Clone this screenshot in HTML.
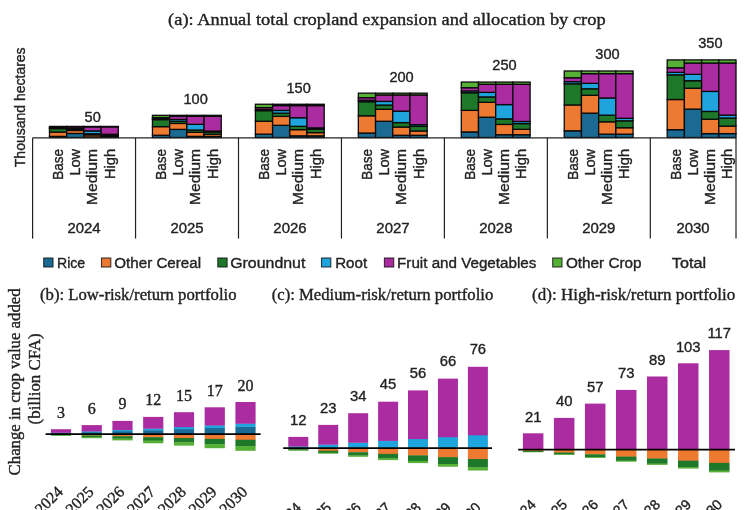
<!DOCTYPE html>
<html><head><meta charset="utf-8"><title>Cropland expansion charts</title>
<style>
html,body{margin:0;padding:0;background:#fff}
svg{display:block}
.sa{font-family:"Liberation Sans", sans-serif;stroke:#222;stroke-width:0.36px}
.se{font-family:"Liberation Serif", serif;stroke:#222;stroke-width:0.38px}
</style></head><body>
<svg width="747" height="510" viewBox="0 0 747 510">
<rect width="747" height="510" fill="#fff"/>
<g stroke="#0a0a0a" stroke-width="1.3">
<rect x="49.50" y="136.39" width="17.20" height="1.11" fill="#1A6A94"/>
<rect x="49.50" y="132.07" width="17.20" height="4.31" fill="#EE7A32"/>
<rect x="49.50" y="128.55" width="17.20" height="3.53" fill="#1D7829"/>
<rect x="49.50" y="128.19" width="17.20" height="0.35" fill="#1FA4DE"/>
<rect x="49.50" y="127.54" width="17.20" height="0.65" fill="#AB2CA0"/>
<rect x="49.50" y="126.42" width="17.20" height="1.13" fill="#55B035"/>
<rect x="66.70" y="133.44" width="17.20" height="4.06" fill="#1A6A94"/>
<rect x="66.70" y="130.46" width="17.20" height="2.98" fill="#EE7A32"/>
<rect x="66.70" y="129.39" width="17.20" height="1.08" fill="#1D7829"/>
<rect x="66.70" y="128.48" width="17.20" height="0.91" fill="#1FA4DE"/>
<rect x="66.70" y="126.86" width="17.20" height="1.62" fill="#AB2CA0"/>
<rect x="66.70" y="126.42" width="17.20" height="0.44" fill="#55B035"/>
<rect x="83.90" y="136.95" width="17.20" height="0.55" fill="#1A6A94"/>
<rect x="83.90" y="134.88" width="17.20" height="2.06" fill="#EE7A32"/>
<rect x="83.90" y="133.78" width="17.20" height="1.11" fill="#1D7829"/>
<rect x="83.90" y="130.92" width="17.20" height="2.86" fill="#1FA4DE"/>
<rect x="83.90" y="126.86" width="17.20" height="4.06" fill="#AB2CA0"/>
<rect x="83.90" y="126.42" width="17.20" height="0.44" fill="#55B035"/>
<rect x="101.10" y="136.95" width="17.20" height="0.55" fill="#1A6A94"/>
<rect x="101.10" y="135.87" width="17.20" height="1.08" fill="#EE7A32"/>
<rect x="101.10" y="134.72" width="17.20" height="1.15" fill="#1D7829"/>
<rect x="101.10" y="134.30" width="17.20" height="0.42" fill="#1FA4DE"/>
<rect x="101.10" y="126.86" width="17.20" height="7.44" fill="#AB2CA0"/>
<rect x="101.10" y="126.42" width="17.20" height="0.44" fill="#55B035"/>
<rect x="152.45" y="135.27" width="17.20" height="2.23" fill="#1A6A94"/>
<rect x="152.45" y="126.65" width="17.20" height="8.62" fill="#EE7A32"/>
<rect x="152.45" y="119.60" width="17.20" height="7.05" fill="#1D7829"/>
<rect x="152.45" y="118.89" width="17.20" height="0.71" fill="#1FA4DE"/>
<rect x="152.45" y="117.58" width="17.20" height="1.31" fill="#AB2CA0"/>
<rect x="152.45" y="115.33" width="17.20" height="2.25" fill="#55B035"/>
<rect x="169.65" y="129.39" width="17.20" height="8.11" fill="#1A6A94"/>
<rect x="169.65" y="123.42" width="17.20" height="5.96" fill="#EE7A32"/>
<rect x="169.65" y="121.27" width="17.20" height="2.15" fill="#1D7829"/>
<rect x="169.65" y="119.45" width="17.20" height="1.82" fill="#1FA4DE"/>
<rect x="169.65" y="116.22" width="17.20" height="3.24" fill="#AB2CA0"/>
<rect x="169.65" y="115.33" width="17.20" height="0.89" fill="#55B035"/>
<rect x="186.85" y="136.39" width="17.20" height="1.11" fill="#1A6A94"/>
<rect x="186.85" y="132.27" width="17.20" height="4.12" fill="#EE7A32"/>
<rect x="186.85" y="130.05" width="17.20" height="2.22" fill="#1D7829"/>
<rect x="186.85" y="124.33" width="17.20" height="5.72" fill="#1FA4DE"/>
<rect x="186.85" y="116.22" width="17.20" height="8.11" fill="#AB2CA0"/>
<rect x="186.85" y="115.33" width="17.20" height="0.89" fill="#55B035"/>
<rect x="204.05" y="136.39" width="17.20" height="1.11" fill="#1A6A94"/>
<rect x="204.05" y="134.24" width="17.20" height="2.15" fill="#EE7A32"/>
<rect x="204.05" y="131.94" width="17.20" height="2.31" fill="#1D7829"/>
<rect x="204.05" y="131.09" width="17.20" height="0.84" fill="#1FA4DE"/>
<rect x="204.05" y="116.22" width="17.20" height="14.88" fill="#AB2CA0"/>
<rect x="204.05" y="115.33" width="17.20" height="0.89" fill="#55B035"/>
<rect x="255.40" y="134.16" width="17.20" height="3.34" fill="#1A6A94"/>
<rect x="255.40" y="121.22" width="17.20" height="12.94" fill="#EE7A32"/>
<rect x="255.40" y="110.65" width="17.20" height="10.58" fill="#1D7829"/>
<rect x="255.40" y="109.58" width="17.20" height="1.06" fill="#1FA4DE"/>
<rect x="255.40" y="107.62" width="17.20" height="1.96" fill="#AB2CA0"/>
<rect x="255.40" y="104.24" width="17.20" height="3.38" fill="#55B035"/>
<rect x="272.60" y="125.33" width="17.20" height="12.17" fill="#1A6A94"/>
<rect x="272.60" y="116.38" width="17.20" height="8.95" fill="#EE7A32"/>
<rect x="272.60" y="113.16" width="17.20" height="3.23" fill="#1D7829"/>
<rect x="272.60" y="110.43" width="17.20" height="2.73" fill="#1FA4DE"/>
<rect x="272.60" y="105.58" width="17.20" height="4.86" fill="#AB2CA0"/>
<rect x="272.60" y="104.24" width="17.20" height="1.33" fill="#55B035"/>
<rect x="289.80" y="135.84" width="17.20" height="1.66" fill="#1A6A94"/>
<rect x="289.80" y="129.65" width="17.20" height="6.19" fill="#EE7A32"/>
<rect x="289.80" y="126.33" width="17.20" height="3.33" fill="#1D7829"/>
<rect x="289.80" y="117.75" width="17.20" height="8.58" fill="#1FA4DE"/>
<rect x="289.80" y="105.58" width="17.20" height="12.17" fill="#AB2CA0"/>
<rect x="289.80" y="104.25" width="17.20" height="1.33" fill="#55B035"/>
<rect x="307.00" y="135.84" width="17.20" height="1.66" fill="#1A6A94"/>
<rect x="307.00" y="132.61" width="17.20" height="3.23" fill="#EE7A32"/>
<rect x="307.00" y="129.15" width="17.20" height="3.46" fill="#1D7829"/>
<rect x="307.00" y="127.89" width="17.20" height="1.26" fill="#1FA4DE"/>
<rect x="307.00" y="105.58" width="17.20" height="22.31" fill="#AB2CA0"/>
<rect x="307.00" y="104.25" width="17.20" height="1.33" fill="#55B035"/>
<rect x="358.35" y="133.04" width="17.20" height="4.46" fill="#1A6A94"/>
<rect x="358.35" y="115.80" width="17.20" height="17.25" fill="#EE7A32"/>
<rect x="358.35" y="101.70" width="17.20" height="14.10" fill="#1D7829"/>
<rect x="358.35" y="100.28" width="17.20" height="1.42" fill="#1FA4DE"/>
<rect x="358.35" y="97.66" width="17.20" height="2.62" fill="#AB2CA0"/>
<rect x="358.35" y="93.16" width="17.20" height="4.50" fill="#55B035"/>
<rect x="375.55" y="121.27" width="17.20" height="16.23" fill="#1A6A94"/>
<rect x="375.55" y="109.34" width="17.20" height="11.93" fill="#EE7A32"/>
<rect x="375.55" y="105.04" width="17.20" height="4.30" fill="#1D7829"/>
<rect x="375.55" y="101.41" width="17.20" height="3.64" fill="#1FA4DE"/>
<rect x="375.55" y="94.93" width="17.20" height="6.47" fill="#AB2CA0"/>
<rect x="375.55" y="93.16" width="17.20" height="1.77" fill="#55B035"/>
<rect x="392.75" y="135.28" width="17.20" height="2.22" fill="#1A6A94"/>
<rect x="392.75" y="127.04" width="17.20" height="8.25" fill="#EE7A32"/>
<rect x="392.75" y="122.60" width="17.20" height="4.43" fill="#1D7829"/>
<rect x="392.75" y="111.16" width="17.20" height="11.44" fill="#1FA4DE"/>
<rect x="392.75" y="94.93" width="17.20" height="16.23" fill="#AB2CA0"/>
<rect x="392.75" y="93.16" width="17.20" height="1.77" fill="#55B035"/>
<rect x="409.95" y="135.28" width="17.20" height="2.22" fill="#1A6A94"/>
<rect x="409.95" y="130.98" width="17.20" height="4.30" fill="#EE7A32"/>
<rect x="409.95" y="126.37" width="17.20" height="4.61" fill="#1D7829"/>
<rect x="409.95" y="124.69" width="17.20" height="1.68" fill="#1FA4DE"/>
<rect x="409.95" y="94.93" width="17.20" height="29.75" fill="#AB2CA0"/>
<rect x="409.95" y="93.16" width="17.20" height="1.77" fill="#55B035"/>
<rect x="461.30" y="131.93" width="17.20" height="5.57" fill="#1A6A94"/>
<rect x="461.30" y="110.37" width="17.20" height="21.56" fill="#EE7A32"/>
<rect x="461.30" y="92.74" width="17.20" height="17.63" fill="#1D7829"/>
<rect x="461.30" y="90.97" width="17.20" height="1.77" fill="#1FA4DE"/>
<rect x="461.30" y="87.70" width="17.20" height="3.27" fill="#AB2CA0"/>
<rect x="461.30" y="82.07" width="17.20" height="5.63" fill="#55B035"/>
<rect x="478.50" y="117.21" width="17.20" height="20.29" fill="#1A6A94"/>
<rect x="478.50" y="102.31" width="17.20" height="14.91" fill="#EE7A32"/>
<rect x="478.50" y="96.93" width="17.20" height="5.38" fill="#1D7829"/>
<rect x="478.50" y="92.38" width="17.20" height="4.54" fill="#1FA4DE"/>
<rect x="478.50" y="84.29" width="17.20" height="8.09" fill="#AB2CA0"/>
<rect x="478.50" y="82.08" width="17.20" height="2.22" fill="#55B035"/>
<rect x="495.70" y="134.73" width="17.20" height="2.77" fill="#1A6A94"/>
<rect x="495.70" y="124.42" width="17.20" height="10.31" fill="#EE7A32"/>
<rect x="495.70" y="118.88" width="17.20" height="5.54" fill="#1D7829"/>
<rect x="495.70" y="104.58" width="17.20" height="14.30" fill="#1FA4DE"/>
<rect x="495.70" y="84.29" width="17.20" height="20.29" fill="#AB2CA0"/>
<rect x="495.70" y="82.07" width="17.20" height="2.22" fill="#55B035"/>
<rect x="512.90" y="134.73" width="17.20" height="2.77" fill="#1A6A94"/>
<rect x="512.90" y="129.35" width="17.20" height="5.38" fill="#EE7A32"/>
<rect x="512.90" y="123.59" width="17.20" height="5.76" fill="#1D7829"/>
<rect x="512.90" y="121.48" width="17.20" height="2.11" fill="#1FA4DE"/>
<rect x="512.90" y="84.29" width="17.20" height="37.19" fill="#AB2CA0"/>
<rect x="512.90" y="82.07" width="17.20" height="2.22" fill="#55B035"/>
<rect x="564.25" y="130.82" width="17.20" height="6.68" fill="#1A6A94"/>
<rect x="564.25" y="104.94" width="17.20" height="25.87" fill="#EE7A32"/>
<rect x="564.25" y="83.79" width="17.20" height="21.15" fill="#1D7829"/>
<rect x="564.25" y="81.66" width="17.20" height="2.13" fill="#1FA4DE"/>
<rect x="564.25" y="77.74" width="17.20" height="3.92" fill="#AB2CA0"/>
<rect x="564.25" y="70.99" width="17.20" height="6.75" fill="#55B035"/>
<rect x="581.45" y="113.16" width="17.20" height="24.34" fill="#1A6A94"/>
<rect x="581.45" y="95.27" width="17.20" height="17.89" fill="#EE7A32"/>
<rect x="581.45" y="88.81" width="17.20" height="6.45" fill="#1D7829"/>
<rect x="581.45" y="83.36" width="17.20" height="5.45" fill="#1FA4DE"/>
<rect x="581.45" y="73.65" width="17.20" height="9.71" fill="#AB2CA0"/>
<rect x="581.45" y="70.99" width="17.20" height="2.66" fill="#55B035"/>
<rect x="598.65" y="134.17" width="17.20" height="3.33" fill="#1A6A94"/>
<rect x="598.65" y="121.80" width="17.20" height="12.37" fill="#EE7A32"/>
<rect x="598.65" y="115.15" width="17.20" height="6.65" fill="#1D7829"/>
<rect x="598.65" y="97.99" width="17.20" height="17.16" fill="#1FA4DE"/>
<rect x="598.65" y="73.65" width="17.20" height="24.34" fill="#AB2CA0"/>
<rect x="598.65" y="70.99" width="17.20" height="2.66" fill="#55B035"/>
<rect x="615.85" y="134.17" width="17.20" height="3.33" fill="#1A6A94"/>
<rect x="615.85" y="127.72" width="17.20" height="6.45" fill="#EE7A32"/>
<rect x="615.85" y="120.81" width="17.20" height="6.92" fill="#1D7829"/>
<rect x="615.85" y="118.28" width="17.20" height="2.53" fill="#1FA4DE"/>
<rect x="615.85" y="73.65" width="17.20" height="44.63" fill="#AB2CA0"/>
<rect x="615.85" y="70.99" width="17.20" height="2.66" fill="#55B035"/>
<rect x="667.20" y="129.70" width="17.20" height="7.80" fill="#1A6A94"/>
<rect x="667.20" y="99.52" width="17.20" height="30.18" fill="#EE7A32"/>
<rect x="667.20" y="74.84" width="17.20" height="24.68" fill="#1D7829"/>
<rect x="667.20" y="72.36" width="17.20" height="2.48" fill="#1FA4DE"/>
<rect x="667.20" y="67.78" width="17.20" height="4.58" fill="#AB2CA0"/>
<rect x="667.20" y="59.91" width="17.20" height="7.88" fill="#55B035"/>
<rect x="684.40" y="109.10" width="17.20" height="28.40" fill="#1A6A94"/>
<rect x="684.40" y="88.23" width="17.20" height="20.87" fill="#EE7A32"/>
<rect x="684.40" y="80.70" width="17.20" height="7.53" fill="#1D7829"/>
<rect x="684.40" y="74.34" width="17.20" height="6.36" fill="#1FA4DE"/>
<rect x="684.40" y="63.01" width="17.20" height="11.33" fill="#AB2CA0"/>
<rect x="684.40" y="59.90" width="17.20" height="3.10" fill="#55B035"/>
<rect x="701.60" y="133.62" width="17.20" height="3.88" fill="#1A6A94"/>
<rect x="701.60" y="119.19" width="17.20" height="14.43" fill="#EE7A32"/>
<rect x="701.60" y="111.43" width="17.20" height="7.76" fill="#1D7829"/>
<rect x="701.60" y="91.41" width="17.20" height="20.02" fill="#1FA4DE"/>
<rect x="701.60" y="63.01" width="17.20" height="28.40" fill="#AB2CA0"/>
<rect x="701.60" y="59.90" width="17.20" height="3.10" fill="#55B035"/>
<rect x="718.80" y="133.62" width="17.20" height="3.88" fill="#1A6A94"/>
<rect x="718.80" y="126.09" width="17.20" height="7.53" fill="#EE7A32"/>
<rect x="718.80" y="118.02" width="17.20" height="8.07" fill="#1D7829"/>
<rect x="718.80" y="115.08" width="17.20" height="2.95" fill="#1FA4DE"/>
<rect x="718.80" y="63.01" width="17.20" height="52.07" fill="#AB2CA0"/>
<rect x="718.80" y="59.91" width="17.20" height="3.10" fill="#55B035"/>
</g>
<g stroke="#222" stroke-width="1.2" fill="none">
<path d="M32.6 137.8H736"/>
<path d="M32.60 137.8V238.6"/>
<path d="M135.55 137.8V238.6"/>
<path d="M238.50 137.8V238.6"/>
<path d="M341.45 137.8V238.6"/>
<path d="M444.40 137.8V238.6"/>
<path d="M547.35 137.8V238.6"/>
<path d="M650.30 137.8V238.6"/>
<path d="M736 137.8V238.6"/>
</g>
<text class="sa" x="63.1" y="148.9" font-size="14.4" text-anchor="end" transform="rotate(-90 63.1 148.9)" textLength="30.8" lengthAdjust="spacingAndGlyphs" fill="#222">Base</text>
<text class="sa" x="80.3" y="148.9" font-size="14.4" text-anchor="end" transform="rotate(-90 80.3 148.9)" textLength="26.7" lengthAdjust="spacingAndGlyphs" fill="#222">Low</text>
<text class="sa" x="97.5" y="148.9" font-size="14.4" text-anchor="end" transform="rotate(-90 97.5 148.9)" textLength="56.2" lengthAdjust="spacingAndGlyphs" fill="#222">Medium</text>
<text class="sa" x="114.7" y="148.9" font-size="14.4" text-anchor="end" transform="rotate(-90 114.7 148.9)" textLength="30.2" lengthAdjust="spacingAndGlyphs" fill="#222">High</text>
<text class="sa" x="84.08" y="233.4" font-size="14.4" text-anchor="middle" textLength="33.2" lengthAdjust="spacingAndGlyphs" fill="#222">2024</text>
<text class="sa" x="92.7" y="122.21" font-size="14.4" text-anchor="middle" textLength="16.2" lengthAdjust="spacingAndGlyphs" fill="#222">50</text>
<text class="sa" x="166.05" y="148.9" font-size="14.4" text-anchor="end" transform="rotate(-90 166.05 148.9)" textLength="30.8" lengthAdjust="spacingAndGlyphs" fill="#222">Base</text>
<text class="sa" x="183.25" y="148.9" font-size="14.4" text-anchor="end" transform="rotate(-90 183.25 148.9)" textLength="26.7" lengthAdjust="spacingAndGlyphs" fill="#222">Low</text>
<text class="sa" x="200.45" y="148.9" font-size="14.4" text-anchor="end" transform="rotate(-90 200.45 148.9)" textLength="56.2" lengthAdjust="spacingAndGlyphs" fill="#222">Medium</text>
<text class="sa" x="217.65" y="148.9" font-size="14.4" text-anchor="end" transform="rotate(-90 217.65 148.9)" textLength="30.2" lengthAdjust="spacingAndGlyphs" fill="#222">High</text>
<text class="sa" x="187.03" y="233.4" font-size="14.4" text-anchor="middle" textLength="33.2" lengthAdjust="spacingAndGlyphs" fill="#222">2025</text>
<text class="sa" x="195.65" y="103.73" font-size="14.4" text-anchor="middle" textLength="24.3" lengthAdjust="spacingAndGlyphs" fill="#222">100</text>
<text class="sa" x="269.0" y="148.9" font-size="14.4" text-anchor="end" transform="rotate(-90 269.0 148.9)" textLength="30.8" lengthAdjust="spacingAndGlyphs" fill="#222">Base</text>
<text class="sa" x="286.2" y="148.9" font-size="14.4" text-anchor="end" transform="rotate(-90 286.2 148.9)" textLength="26.7" lengthAdjust="spacingAndGlyphs" fill="#222">Low</text>
<text class="sa" x="303.4" y="148.9" font-size="14.4" text-anchor="end" transform="rotate(-90 303.4 148.9)" textLength="56.2" lengthAdjust="spacingAndGlyphs" fill="#222">Medium</text>
<text class="sa" x="320.6" y="148.9" font-size="14.4" text-anchor="end" transform="rotate(-90 320.6 148.9)" textLength="30.2" lengthAdjust="spacingAndGlyphs" fill="#222">High</text>
<text class="sa" x="289.98" y="233.4" font-size="14.4" text-anchor="middle" textLength="33.2" lengthAdjust="spacingAndGlyphs" fill="#222">2026</text>
<text class="sa" x="298.6" y="92.65" font-size="14.4" text-anchor="middle" textLength="24.3" lengthAdjust="spacingAndGlyphs" fill="#222">150</text>
<text class="sa" x="371.95" y="148.9" font-size="14.4" text-anchor="end" transform="rotate(-90 371.95 148.9)" textLength="30.8" lengthAdjust="spacingAndGlyphs" fill="#222">Base</text>
<text class="sa" x="389.15" y="148.9" font-size="14.4" text-anchor="end" transform="rotate(-90 389.15 148.9)" textLength="26.7" lengthAdjust="spacingAndGlyphs" fill="#222">Low</text>
<text class="sa" x="406.35" y="148.9" font-size="14.4" text-anchor="end" transform="rotate(-90 406.35 148.9)" textLength="56.2" lengthAdjust="spacingAndGlyphs" fill="#222">Medium</text>
<text class="sa" x="423.55" y="148.9" font-size="14.4" text-anchor="end" transform="rotate(-90 423.55 148.9)" textLength="30.2" lengthAdjust="spacingAndGlyphs" fill="#222">High</text>
<text class="sa" x="392.93" y="233.4" font-size="14.4" text-anchor="middle" textLength="33.2" lengthAdjust="spacingAndGlyphs" fill="#222">2027</text>
<text class="sa" x="401.55" y="81.56" font-size="14.4" text-anchor="middle" textLength="24.3" lengthAdjust="spacingAndGlyphs" fill="#222">200</text>
<text class="sa" x="474.9" y="148.9" font-size="14.4" text-anchor="end" transform="rotate(-90 474.9 148.9)" textLength="30.8" lengthAdjust="spacingAndGlyphs" fill="#222">Base</text>
<text class="sa" x="492.1" y="148.9" font-size="14.4" text-anchor="end" transform="rotate(-90 492.1 148.9)" textLength="26.7" lengthAdjust="spacingAndGlyphs" fill="#222">Low</text>
<text class="sa" x="509.3" y="148.9" font-size="14.4" text-anchor="end" transform="rotate(-90 509.3 148.9)" textLength="56.2" lengthAdjust="spacingAndGlyphs" fill="#222">Medium</text>
<text class="sa" x="526.5" y="148.9" font-size="14.4" text-anchor="end" transform="rotate(-90 526.5 148.9)" textLength="30.2" lengthAdjust="spacingAndGlyphs" fill="#222">High</text>
<text class="sa" x="495.88" y="233.4" font-size="14.4" text-anchor="middle" textLength="33.2" lengthAdjust="spacingAndGlyphs" fill="#222">2028</text>
<text class="sa" x="504.5" y="70.47" font-size="14.4" text-anchor="middle" textLength="24.3" lengthAdjust="spacingAndGlyphs" fill="#222">250</text>
<text class="sa" x="577.85" y="148.9" font-size="14.4" text-anchor="end" transform="rotate(-90 577.85 148.9)" textLength="30.8" lengthAdjust="spacingAndGlyphs" fill="#222">Base</text>
<text class="sa" x="595.05" y="148.9" font-size="14.4" text-anchor="end" transform="rotate(-90 595.05 148.9)" textLength="26.7" lengthAdjust="spacingAndGlyphs" fill="#222">Low</text>
<text class="sa" x="612.25" y="148.9" font-size="14.4" text-anchor="end" transform="rotate(-90 612.25 148.9)" textLength="56.2" lengthAdjust="spacingAndGlyphs" fill="#222">Medium</text>
<text class="sa" x="629.45" y="148.9" font-size="14.4" text-anchor="end" transform="rotate(-90 629.45 148.9)" textLength="30.2" lengthAdjust="spacingAndGlyphs" fill="#222">High</text>
<text class="sa" x="598.83" y="233.4" font-size="14.4" text-anchor="middle" textLength="33.2" lengthAdjust="spacingAndGlyphs" fill="#222">2029</text>
<text class="sa" x="607.45" y="59.39" font-size="14.4" text-anchor="middle" textLength="24.3" lengthAdjust="spacingAndGlyphs" fill="#222">300</text>
<text class="sa" x="680.8" y="148.9" font-size="14.4" text-anchor="end" transform="rotate(-90 680.8 148.9)" textLength="30.8" lengthAdjust="spacingAndGlyphs" fill="#222">Base</text>
<text class="sa" x="698.0" y="148.9" font-size="14.4" text-anchor="end" transform="rotate(-90 698.0 148.9)" textLength="26.7" lengthAdjust="spacingAndGlyphs" fill="#222">Low</text>
<text class="sa" x="715.2" y="148.9" font-size="14.4" text-anchor="end" transform="rotate(-90 715.2 148.9)" textLength="56.2" lengthAdjust="spacingAndGlyphs" fill="#222">Medium</text>
<text class="sa" x="732.4" y="148.9" font-size="14.4" text-anchor="end" transform="rotate(-90 732.4 148.9)" textLength="30.2" lengthAdjust="spacingAndGlyphs" fill="#222">High</text>
<text class="sa" x="693" y="233.4" font-size="14.4" text-anchor="middle" textLength="33.2" lengthAdjust="spacingAndGlyphs" fill="#222">2030</text>
<text class="sa" x="710.4" y="48.3" font-size="14.4" text-anchor="middle" textLength="24.3" lengthAdjust="spacingAndGlyphs" fill="#222">350</text>
<text class="sa" x="24.6" y="107.3" font-size="14.4" text-anchor="middle" transform="rotate(-90 24.6 107.3)" textLength="119.8" lengthAdjust="spacingAndGlyphs" fill="#222">Thousand hectares</text>
<text class="se" x="168.1" y="25.1" font-size="17.5" textLength="437.5" lengthAdjust="spacingAndGlyphs" fill="#222">(a): Annual total cropland expansion and allocation by crop</text>
<rect x="43.7" y="258.0" width="9.3" height="9.0" fill="#1A6A94" stroke="#111" stroke-opacity="0.8" stroke-width="1.1"/>
<text class="sa" x="57.0" y="267.6" font-size="14.9" textLength="28.2" lengthAdjust="spacingAndGlyphs" fill="#222">Rice</text>
<rect x="101.5" y="258.0" width="9.3" height="9.0" fill="#EE7A32" stroke="#111" stroke-opacity="0.8" stroke-width="1.1"/>
<text class="sa" x="114.3" y="267.6" font-size="14.9" textLength="86.7" lengthAdjust="spacingAndGlyphs" fill="#222">Other Cereal</text>
<rect x="217.8" y="258.0" width="9.3" height="9.0" fill="#1D7829" stroke="#111" stroke-opacity="0.8" stroke-width="1.1"/>
<text class="sa" x="230.2" y="267.6" font-size="14.9" textLength="75.2" lengthAdjust="spacingAndGlyphs" fill="#222">Groundnut</text>
<rect x="321.5" y="258.0" width="9.3" height="9.0" fill="#1FA4DE" stroke="#111" stroke-opacity="0.8" stroke-width="1.1"/>
<text class="sa" x="335.2" y="267.6" font-size="14.9" textLength="32.0" lengthAdjust="spacingAndGlyphs" fill="#222">Root</text>
<rect x="384.4" y="258.0" width="9.3" height="9.0" fill="#AB2CA0" stroke="#111" stroke-opacity="0.8" stroke-width="1.1"/>
<text class="sa" x="397.1" y="267.6" font-size="14.9" textLength="139.2" lengthAdjust="spacingAndGlyphs" fill="#222">Fruit and Vegetables</text>
<rect x="552.7" y="258.0" width="9.3" height="9.0" fill="#55B035" stroke="#111" stroke-opacity="0.8" stroke-width="1.1"/>
<text class="sa" x="565.9" y="267.6" font-size="14.9" textLength="75.7" lengthAdjust="spacingAndGlyphs" fill="#222">Other Crop</text>
<text class="sa" x="671.8" y="267.6" font-size="14.9" textLength="34.2" lengthAdjust="spacingAndGlyphs" fill="#222">Total</text>
<text class="se" x="40" y="299.5" font-size="16.7" textLength="196.5" lengthAdjust="spacingAndGlyphs" fill="#222">(b): Low-risk/return portfolio</text>
<text class="se" x="271.7" y="299.5" font-size="16.7" textLength="221.6" lengthAdjust="spacingAndGlyphs" fill="#222">(c): Medium-risk/return portfolio</text>
<text class="se" x="532.1" y="299.5" font-size="16.7" textLength="203.2" lengthAdjust="spacingAndGlyphs" fill="#222">(d): High-risk/return portfolio</text>
<text class="se" x="20.2" y="381.9" font-size="16.7" text-anchor="middle" transform="rotate(-90 20.2 381.9)" textLength="187" lengthAdjust="spacingAndGlyphs" fill="#222">Change in crop value added</text>
<text class="se" x="39.6" y="378.9" font-size="16.7" text-anchor="middle" transform="rotate(-90 39.6 378.9)" textLength="91" lengthAdjust="spacingAndGlyphs" fill="#222">(billion CFA)</text>
<rect x="50.90" y="433.02" width="20.2" height="1.48" fill="#1A6A94"/>
<rect x="50.90" y="432.53" width="20.2" height="0.78" fill="#1FA4DE"/>
<rect x="50.90" y="429.20" width="20.2" height="3.63" fill="#AB2CA0"/>
<rect x="50.90" y="434.20" width="20.2" height="0.78" fill="#EE7A32"/>
<rect x="50.90" y="434.68" width="20.2" height="0.84" fill="#1D7829"/>
<rect x="50.90" y="435.22" width="20.2" height="0.68" fill="#55B035"/>
<text class="se" x="61.0" y="417.7" font-size="16" text-anchor="middle" fill="#222">3</text>
<text class="se" x="63.8" y="492.8" font-size="16.0" text-anchor="end" transform="rotate(-45 63.8 492.8)" fill="#222">2024</text>
<rect x="81.65" y="432.05" width="20.2" height="2.45" fill="#1A6A94"/>
<rect x="81.65" y="431.17" width="20.2" height="1.18" fill="#1FA4DE"/>
<rect x="81.65" y="425.10" width="20.2" height="6.37" fill="#AB2CA0"/>
<rect x="81.65" y="434.20" width="20.2" height="1.56" fill="#EE7A32"/>
<rect x="81.65" y="435.46" width="20.2" height="1.72" fill="#1D7829"/>
<rect x="81.65" y="436.89" width="20.2" height="1.31" fill="#55B035"/>
<text class="se" x="91.75" y="413.6" font-size="16" text-anchor="middle" fill="#222">6</text>
<text class="se" x="94.55" y="492.8" font-size="16.0" text-anchor="end" transform="rotate(-45 94.55 492.8)" fill="#222">2025</text>
<rect x="112.40" y="431.05" width="20.2" height="3.45" fill="#1A6A94"/>
<rect x="112.40" y="429.77" width="20.2" height="1.58" fill="#1FA4DE"/>
<rect x="112.40" y="420.90" width="20.2" height="9.17" fill="#AB2CA0"/>
<rect x="112.40" y="434.20" width="20.2" height="2.32" fill="#EE7A32"/>
<rect x="112.40" y="436.22" width="20.2" height="2.57" fill="#1D7829"/>
<rect x="112.40" y="438.49" width="20.2" height="1.91" fill="#55B035"/>
<text class="se" x="122.5" y="409.4" font-size="16" text-anchor="middle" fill="#222">9</text>
<text class="se" x="125.3" y="492.8" font-size="16.0" text-anchor="end" transform="rotate(-45 125.3 492.8)" fill="#222">2026</text>
<rect x="143.15" y="430.10" width="20.2" height="4.40" fill="#1A6A94"/>
<rect x="143.15" y="428.43" width="20.2" height="1.97" fill="#1FA4DE"/>
<rect x="143.15" y="416.90" width="20.2" height="11.83" fill="#AB2CA0"/>
<rect x="143.15" y="434.20" width="20.2" height="3.31" fill="#EE7A32"/>
<rect x="143.15" y="437.21" width="20.2" height="3.69" fill="#1D7829"/>
<rect x="143.15" y="440.60" width="20.2" height="2.70" fill="#55B035"/>
<text class="se" x="153.25" y="405.4" font-size="16" text-anchor="middle" fill="#222">12</text>
<text class="se" x="156.05" y="492.8" font-size="16.0" text-anchor="end" transform="rotate(-45 156.05 492.8)" fill="#222">2027</text>
<rect x="173.90" y="428.99" width="20.2" height="5.51" fill="#1A6A94"/>
<rect x="173.90" y="426.87" width="20.2" height="2.42" fill="#1FA4DE"/>
<rect x="173.90" y="412.20" width="20.2" height="14.97" fill="#AB2CA0"/>
<rect x="173.90" y="434.20" width="20.2" height="4.09" fill="#EE7A32"/>
<rect x="173.90" y="437.99" width="20.2" height="4.57" fill="#1D7829"/>
<rect x="173.90" y="442.27" width="20.2" height="3.33" fill="#55B035"/>
<text class="se" x="184.0" y="400.7" font-size="16" text-anchor="middle" fill="#222">15</text>
<text class="se" x="186.8" y="492.8" font-size="16.0" text-anchor="end" transform="rotate(-45 186.8 492.8)" fill="#222">2028</text>
<rect x="204.65" y="427.83" width="20.2" height="6.67" fill="#1A6A94"/>
<rect x="204.65" y="425.23" width="20.2" height="2.90" fill="#1FA4DE"/>
<rect x="204.65" y="407.30" width="20.2" height="18.23" fill="#AB2CA0"/>
<rect x="204.65" y="434.20" width="20.2" height="4.98" fill="#EE7A32"/>
<rect x="204.65" y="438.88" width="20.2" height="5.58" fill="#1D7829"/>
<rect x="204.65" y="444.16" width="20.2" height="4.04" fill="#55B035"/>
<text class="se" x="214.75" y="395.8" font-size="16" text-anchor="middle" fill="#222">17</text>
<text class="se" x="217.55" y="492.8" font-size="16.0" text-anchor="end" transform="rotate(-45 217.55 492.8)" fill="#222">2029</text>
<rect x="235.40" y="426.58" width="20.2" height="7.92" fill="#1A6A94"/>
<rect x="235.40" y="423.47" width="20.2" height="3.41" fill="#1FA4DE"/>
<rect x="235.40" y="402.00" width="20.2" height="21.77" fill="#AB2CA0"/>
<rect x="235.40" y="434.20" width="20.2" height="5.87" fill="#EE7A32"/>
<rect x="235.40" y="439.77" width="20.2" height="6.58" fill="#1D7829"/>
<rect x="235.40" y="446.05" width="20.2" height="4.75" fill="#55B035"/>
<text class="se" x="245.5" y="390.5" font-size="16" text-anchor="middle" fill="#222">20</text>
<text class="se" x="248.3" y="492.8" font-size="16.0" text-anchor="end" transform="rotate(-45 248.3 492.8)" fill="#222">2030</text>
<path d="M45.6 434.2H260.6" stroke="#000" stroke-width="1.7"/>
<rect x="288.30" y="446.29" width="20.0" height="2.11" fill="#1FA4DE"/>
<rect x="288.30" y="436.90" width="20.0" height="9.69" fill="#AB2CA0"/>
<rect x="288.30" y="448.10" width="20.0" height="1.43" fill="#EE7A32"/>
<rect x="288.30" y="449.23" width="20.0" height="1.17" fill="#1D7829"/>
<rect x="288.30" y="450.10" width="20.0" height="0.60" fill="#55B035"/>
<text class="sa" x="298.3" y="424.5" font-size="14.8" text-anchor="middle" fill="#222">12</text>
<text class="sa" x="302.1" y="508.4" font-size="14.2" text-anchor="end" transform="rotate(-45 302.1 508.4)" fill="#222">2024</text>
<rect x="318.23" y="444.36" width="20.0" height="4.04" fill="#1FA4DE"/>
<rect x="318.23" y="424.90" width="20.0" height="19.76" fill="#AB2CA0"/>
<rect x="318.23" y="448.10" width="20.0" height="2.91" fill="#EE7A32"/>
<rect x="318.23" y="450.71" width="20.0" height="2.30" fill="#1D7829"/>
<rect x="318.23" y="452.71" width="20.0" height="0.99" fill="#55B035"/>
<text class="sa" x="328.23" y="412.5" font-size="14.8" text-anchor="middle" fill="#222">23</text>
<text class="sa" x="332.03" y="508.4" font-size="14.2" text-anchor="end" transform="rotate(-45 332.03 508.4)" fill="#222">2025</text>
<rect x="348.16" y="442.47" width="20.0" height="5.93" fill="#1FA4DE"/>
<rect x="348.16" y="413.20" width="20.0" height="29.57" fill="#AB2CA0"/>
<rect x="348.16" y="448.10" width="20.0" height="4.44" fill="#EE7A32"/>
<rect x="348.16" y="452.24" width="20.0" height="3.46" fill="#1D7829"/>
<rect x="348.16" y="455.41" width="20.0" height="1.39" fill="#55B035"/>
<text class="sa" x="358.16" y="400.8" font-size="14.8" text-anchor="middle" fill="#222">34</text>
<text class="sa" x="361.96" y="508.4" font-size="14.2" text-anchor="end" transform="rotate(-45 361.96 508.4)" fill="#222">2026</text>
<rect x="378.09" y="440.61" width="20.0" height="7.79" fill="#1FA4DE"/>
<rect x="378.09" y="401.70" width="20.0" height="39.21" fill="#AB2CA0"/>
<rect x="378.09" y="448.10" width="20.0" height="6.07" fill="#EE7A32"/>
<rect x="378.09" y="453.87" width="20.0" height="4.71" fill="#1D7829"/>
<rect x="378.09" y="458.28" width="20.0" height="1.82" fill="#55B035"/>
<text class="sa" x="388.09" y="389.3" font-size="14.8" text-anchor="middle" fill="#222">45</text>
<text class="sa" x="391.89" y="508.4" font-size="14.2" text-anchor="end" transform="rotate(-45 391.89 508.4)" fill="#222">2027</text>
<rect x="408.02" y="438.79" width="20.0" height="9.61" fill="#1FA4DE"/>
<rect x="408.02" y="390.40" width="20.0" height="48.69" fill="#AB2CA0"/>
<rect x="408.02" y="448.10" width="20.0" height="7.55" fill="#EE7A32"/>
<rect x="408.02" y="455.35" width="20.0" height="5.84" fill="#1D7829"/>
<rect x="408.02" y="460.89" width="20.0" height="2.21" fill="#55B035"/>
<text class="sa" x="418.02" y="378.0" font-size="14.8" text-anchor="middle" fill="#222">56</text>
<text class="sa" x="421.82" y="508.4" font-size="14.2" text-anchor="end" transform="rotate(-45 421.82 508.4)" fill="#222">2028</text>
<rect x="437.95" y="436.89" width="20.0" height="11.51" fill="#1FA4DE"/>
<rect x="437.95" y="378.60" width="20.0" height="58.59" fill="#AB2CA0"/>
<rect x="437.95" y="448.10" width="20.0" height="9.33" fill="#EE7A32"/>
<rect x="437.95" y="457.13" width="20.0" height="7.19" fill="#1D7829"/>
<rect x="437.95" y="464.02" width="20.0" height="2.68" fill="#55B035"/>
<text class="sa" x="447.95" y="366.2" font-size="14.8" text-anchor="middle" fill="#222">66</text>
<text class="sa" x="451.75" y="508.4" font-size="14.2" text-anchor="end" transform="rotate(-45 451.75 508.4)" fill="#222">2029</text>
<rect x="467.88" y="434.98" width="20.0" height="13.42" fill="#1FA4DE"/>
<rect x="467.88" y="366.80" width="20.0" height="68.48" fill="#AB2CA0"/>
<rect x="467.88" y="448.10" width="20.0" height="11.20" fill="#EE7A32"/>
<rect x="467.88" y="459.00" width="20.0" height="8.62" fill="#1D7829"/>
<rect x="467.88" y="467.33" width="20.0" height="3.17" fill="#55B035"/>
<text class="sa" x="477.88" y="354.4" font-size="14.8" text-anchor="middle" fill="#222">76</text>
<text class="sa" x="481.68" y="508.4" font-size="14.2" text-anchor="end" transform="rotate(-45 481.68 508.4)" fill="#222">2030</text>
<path d="M283.2 448.1H492" stroke="#000" stroke-width="1.7"/>
<rect x="522.90" y="433.30" width="20.5" height="16.60" fill="#AB2CA0"/>
<rect x="522.90" y="449.60" width="20.5" height="1.66" fill="#EE7A32"/>
<rect x="522.90" y="450.96" width="20.5" height="1.09" fill="#1D7829"/>
<rect x="522.90" y="451.75" width="20.5" height="0.45" fill="#55B035"/>
<text class="sa" x="533.15" y="421.6" font-size="14.8" text-anchor="middle" fill="#222">21</text>
<text class="sa" x="536.95" y="505.3" font-size="14.2" text-anchor="end" transform="rotate(-45 536.95 505.3)" fill="#222">2024</text>
<rect x="553.92" y="417.90" width="20.5" height="32.00" fill="#AB2CA0"/>
<rect x="553.92" y="449.60" width="20.5" height="3.26" fill="#EE7A32"/>
<rect x="553.92" y="452.56" width="20.5" height="2.01" fill="#1D7829"/>
<rect x="553.92" y="454.27" width="20.5" height="0.63" fill="#55B035"/>
<text class="sa" x="564.17" y="406.2" font-size="14.8" text-anchor="middle" fill="#222">40</text>
<text class="sa" x="567.97" y="505.3" font-size="14.2" text-anchor="end" transform="rotate(-45 567.97 505.3)" fill="#222">2025</text>
<rect x="584.94" y="403.60" width="20.5" height="46.30" fill="#AB2CA0"/>
<rect x="584.94" y="449.60" width="20.5" height="5.03" fill="#EE7A32"/>
<rect x="584.94" y="454.33" width="20.5" height="3.04" fill="#1D7829"/>
<rect x="584.94" y="457.07" width="20.5" height="0.83" fill="#55B035"/>
<text class="sa" x="595.19" y="391.9" font-size="14.8" text-anchor="middle" fill="#222">57</text>
<text class="sa" x="598.99" y="505.3" font-size="14.2" text-anchor="end" transform="rotate(-45 598.99 505.3)" fill="#222">2026</text>
<rect x="615.96" y="389.90" width="20.5" height="60.00" fill="#AB2CA0"/>
<rect x="615.96" y="449.60" width="20.5" height="7.28" fill="#EE7A32"/>
<rect x="615.96" y="456.58" width="20.5" height="4.34" fill="#1D7829"/>
<rect x="615.96" y="460.61" width="20.5" height="1.09" fill="#55B035"/>
<text class="sa" x="626.21" y="378.2" font-size="14.8" text-anchor="middle" fill="#222">73</text>
<text class="sa" x="630.01" y="505.3" font-size="14.2" text-anchor="end" transform="rotate(-45 630.01 505.3)" fill="#222">2027</text>
<rect x="646.98" y="376.50" width="20.5" height="73.40" fill="#AB2CA0"/>
<rect x="646.98" y="449.60" width="20.5" height="9.17" fill="#EE7A32"/>
<rect x="646.98" y="458.47" width="20.5" height="5.43" fill="#1D7829"/>
<rect x="646.98" y="463.60" width="20.5" height="1.30" fill="#55B035"/>
<text class="sa" x="657.23" y="364.8" font-size="14.8" text-anchor="middle" fill="#222">89</text>
<text class="sa" x="661.03" y="505.3" font-size="14.2" text-anchor="end" transform="rotate(-45 661.03 505.3)" fill="#222">2028</text>
<rect x="678.00" y="363.30" width="20.5" height="86.60" fill="#AB2CA0"/>
<rect x="678.00" y="449.60" width="20.5" height="11.35" fill="#EE7A32"/>
<rect x="678.00" y="460.65" width="20.5" height="6.70" fill="#1D7829"/>
<rect x="678.00" y="467.05" width="20.5" height="1.55" fill="#55B035"/>
<text class="sa" x="688.25" y="351.6" font-size="14.8" text-anchor="middle" fill="#222">103</text>
<text class="sa" x="692.05" y="505.3" font-size="14.2" text-anchor="end" transform="rotate(-45 692.05 505.3)" fill="#222">2029</text>
<rect x="709.02" y="350.10" width="20.5" height="99.80" fill="#AB2CA0"/>
<rect x="709.02" y="449.60" width="20.5" height="13.60" fill="#EE7A32"/>
<rect x="709.02" y="462.90" width="20.5" height="8.00" fill="#1D7829"/>
<rect x="709.02" y="470.60" width="20.5" height="1.80" fill="#55B035"/>
<text class="sa" x="719.27" y="338.4" font-size="14.8" text-anchor="middle" fill="#222">117</text>
<text class="sa" x="723.07" y="505.3" font-size="14.2" text-anchor="end" transform="rotate(-45 723.07 505.3)" fill="#222">2030</text>
<path d="M518.2 449.6H735" stroke="#000" stroke-width="1.7"/>
</svg>
</body></html>
